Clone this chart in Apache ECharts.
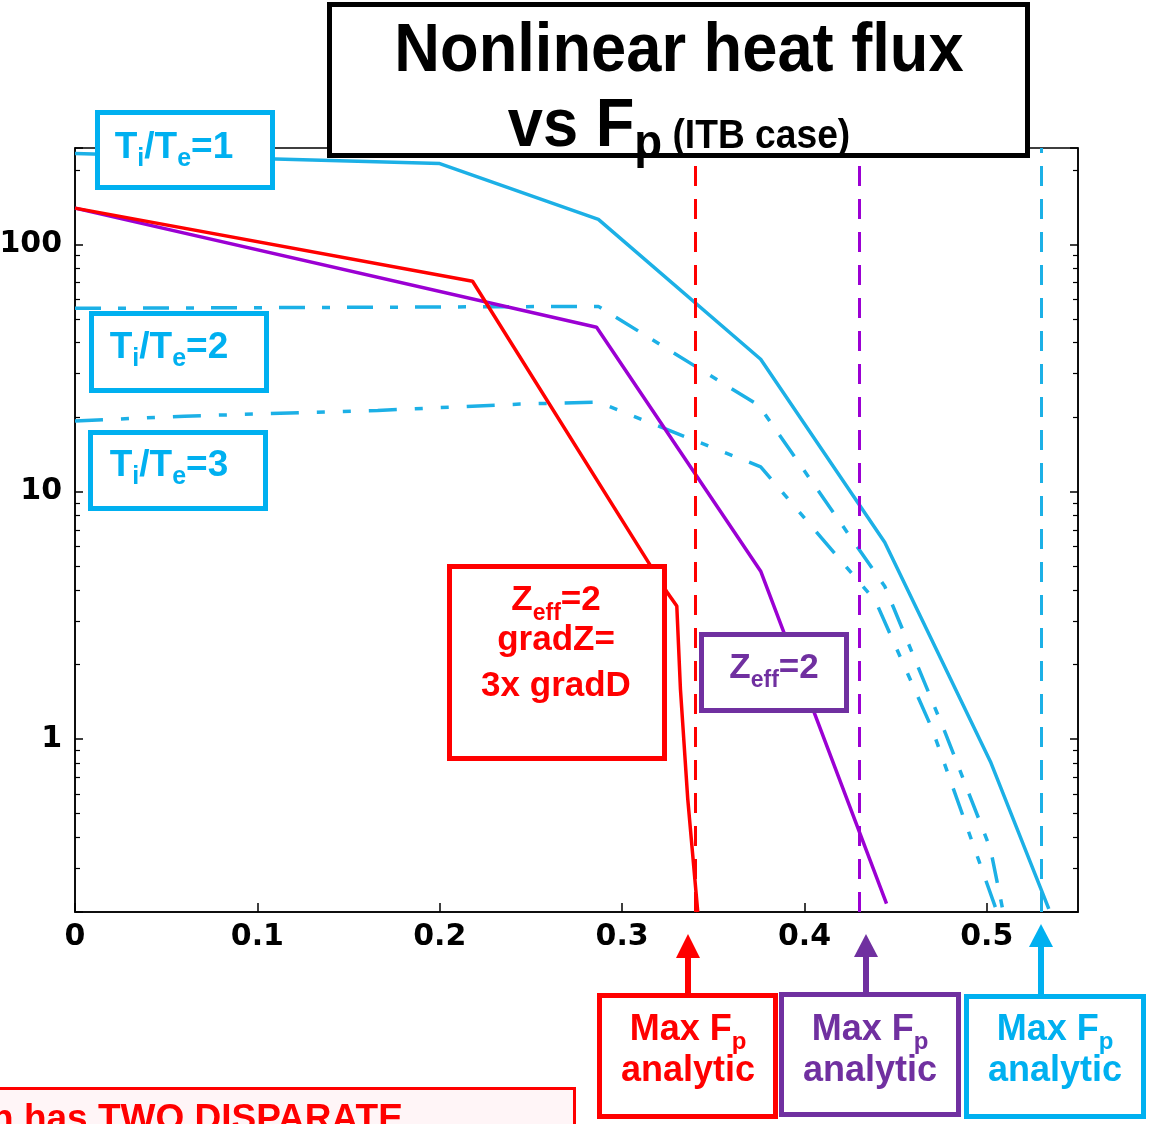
<!DOCTYPE html>
<html><head><meta charset="utf-8">
<script src="https://cdn.jsdelivr.net/npm/echarts@6/dist/echarts.min.js"></script>
<style>html,body{margin:0;padding:0;background:#fff}#c{width:1153px;height:1124px}</style>
</head><body><div id="c"></div><script>
// ---- data ----
const fpT1 = [0, 0.200, 0.287, 0.376, 0.444, 0.502, 0.534];
const qT1  = [233, 212, 126, 34.3, 6.25, 0.81, 0.206];
const fpT2 = [0, 0.287, 0.375, 0.444, 0.477, 0.502, 0.509];
const qT2  = [55.1, 56.1, 22.3, 4.15, 1.07, 0.36, 0.2];
const fpT3 = [0, 0.06, 0.166, 0.244, 0.287, 0.376, 0.439, 0.470, 0.505];
const qT3  = [19.3, 20.2, 21.3, 22.6, 23.0, 12.6, 3.61, 1.10, 0.206];
const fpZ  = [0, 0.286, 0.376, 0.445];
const qZ   = [140, 46.2, 4.77, 0.216];
const fpZg = [0, 0.218, 0.325, 0.330, 0.332, 0.336, 0.3415];
const qZg  = [140, 70.9, 3.89, 3.45, 1.59, 0.573, 0.2];
const maxFpRed = 0.3365, maxFpPurple = 0.4336, maxFpCyan = 0.526;
const xTickLabels = ['0', '0.1', '0.2', '0.3', '0.4', '0.5'];
const yTickLabels = ['1', '10', '100'];

const RED = '#ff0000', PUR = '#7030a0', CYN = '#00b0f0', LCYN = '#1cb0e6', LPUR = '#9b00d3';
const SANS = '"Liberation Sans", Arial, sans-serif';

function pairs(xs, ys) { return xs.map((x, i) => [x, ys[i]]); }

const mctx = document.createElement('canvas').getContext('2d');
function measure(t, size, sx) { mctx.font = 'bold ' + size + 'px ' + SANS; return mctx.measureText(t).width * (sx || 1); }
// parts: [text, size, dy]
function run(cx, baseline, parts, color, sx) {
  sx = sx || 1;
  const ws = parts.map(p => measure(p[0], p[1], sx));
  const total = ws.reduce((a, b) => a + b, 0);
  let x = cx - total / 2;
  const els = [];
  parts.forEach((p, i) => {
    els.push({
      type: 'text', x: x, y: baseline + (p[2] || 0) - 0.33 * p[1], scaleX: sx, z: 110,
      style: { text: p[0], fill: color, font: 'bold ' + p[1] + 'px ' + SANS, textAlign: 'left', verticalAlign: 'middle' }
    });
    x += ws[i];
  });
  return els;
}
function box(x, y, w, h, color, lw, fill) {
  return { type: 'rect', z: 100, shape: { x: x, y: y, width: w, height: h }, style: { fill: fill || '#fff', stroke: color, lineWidth: lw } };
}
function arrow(cx, tip, headBase, bottom, color) {
  return [
    { type: 'rect', z: 100, shape: { x: cx - 3, y: headBase - 2, width: 6, height: bottom - headBase + 2 }, style: { fill: color } },
    { type: 'polygon', z: 100, shape: { points: [[cx - 12, headBase], [cx + 12, headBase], [cx, tip]] }, style: { fill: color } }
  ];
}

const graphics = [].concat(
  [box(329.5, 4.5, 698, 151, '#000', 5)],
  run(679, 75, [['Nonlinear heat flux', 68, 0]], '#000', 0.93),
  run(679, 150, [['vs F', 68, 0], ['p', 49, 11], [' (ITB case)', 40, 0]], '#000', 0.93),
  [box(97.5, 112.5, 175, 75, CYN, 5)],
  run(174, 160, [['T', 37, 0], ['i', 25, 7], ['/T', 37, 0], ['e', 25, 7], ['=1', 37, 0]], CYN),
  [box(91.5, 313.5, 175, 77, CYN, 5)],
  run(169, 360, [['T', 37, 0], ['i', 25, 7], ['/T', 37, 0], ['e', 25, 7], ['=2', 37, 0]], CYN),
  [box(90.5, 432.5, 175, 76, CYN, 5)],
  run(169, 478, [['T', 37, 0], ['i', 25, 7], ['/T', 37, 0], ['e', 25, 7], ['=3', 37, 0]], CYN),
  [box(449.5, 566.5, 215, 192, RED, 5)],
  run(556, 612, [['Z', 35, 0], ['eff', 23, 9], ['=2', 35, 0]], RED),
  run(556, 652, [['gradZ=', 35, 0]], RED),
  run(556, 698, [['3x gradD', 35, 0]], RED),
  [box(701.5, 634.5, 145, 76, PUR, 5)],
  run(774, 680, [['Z', 35, 0], ['eff', 23, 8], ['=2', 35, 0]], PUR),
  arrow(688, 934, 958, 993, RED),
  arrow(866, 934, 957, 993, PUR),
  arrow(1041, 924, 947, 995, CYN),
  [box(599.5, 995.5, 176, 121, RED, 5)],
  run(688, 1042, [['Max F', 36, 0], ['p', 24, 8]], RED),
  run(688, 1083, [['analytic', 36, 0]], RED),
  [box(781.5, 994.5, 177, 120, PUR, 5)],
  run(870, 1042, [['Max F', 36, 0], ['p', 24, 8]], PUR),
  run(870, 1083, [['analytic', 36, 0]], PUR),
  [box(966.5, 996.5, 177, 120, CYN, 5)],
  run(1055, 1042, [['Max F', 36, 0], ['p', 24, 8]], CYN),
  run(1055, 1083, [['analytic', 36, 0]], CYN),
  [box(-3.5, 1088.5, 578, 60, RED, 3, '#fff5f7')],
  [{ type: 'text', x: -9, y: 1132 - 0.33 * 37, z: 110, style: { text: 'n has TWO DISPARATE', fill: RED, font: 'bold 37px ' + SANS, textAlign: 'left', verticalAlign: 'middle' } }]
);

function vline(x, color) {
  return { silent: true, symbol: 'none', label: { show: false }, animation: false,
    lineStyle: { color: color, width: 3, type: [20, 13] }, data: [{ xAxis: x }] };
}

const yAxisBase = {
  type: 'log', logBase: 10, min: 0.2, max: 245,
  axisLine: { show: true, lineStyle: { color: '#000', width: 1.5 } },
  axisTick: { show: true, inside: true, length: 8, lineStyle: { color: '#000', width: 1.5 } },
  minorTick: { show: true, splitNumber: 9, length: 5, lineStyle: { color: '#000', width: 1.2 } },
  splitLine: { show: false }, minorSplitLine: { show: false }
};

const option = {
  animation: false,
  backgroundColor: '#fff',
  grid: { left: 75, right: 75, top: 148, bottom: 212, show: true, borderColor: '#000', borderWidth: 1.5,
    containLabel: false, outerBoundsMode: 'none' },
  xAxis: {
    type: 'value', min: 0, max: 0.55, interval: 0.1,
    axisLine: { lineStyle: { color: '#000', width: 1.5 } },
    axisTick: { inside: true, length: 9, lineStyle: { color: '#000', width: 1.5 } },
    splitLine: { show: false },
    axisLabel: { color: '#000', fontFamily: 'DejaVu Sans', fontWeight: 'bold', fontSize: 30, margin: 10,
      showMaxLabel: false,
      formatter: v => { const i = Math.round(v * 10); return Math.abs(v * 10 - i) < 1e-6 && i < xTickLabels.length ? xTickLabels[i] : ''; } }
  },
  yAxis: [
    Object.assign({}, yAxisBase, { position: 'left',
      axisLabel: { color: '#000', fontFamily: 'DejaVu Sans', fontWeight: 'bold', fontSize: 30, margin: 13,
        formatter: v => { const s = String(Math.round(v)); return (Math.abs(v - Math.round(v)) < 1e-6 && yTickLabels.includes(s)) ? s : ''; } } }),
    Object.assign({}, yAxisBase, { position: 'right', axisLabel: { show: false } })
  ],
  series: [
    { type: 'line', name: 'Ti/Te=1', data: pairs(fpT1, qT1), symbol: 'none', z: 3,
      lineStyle: { color: LCYN, width: 3.5 }, markLine: vline(maxFpCyan, LCYN) },
    { type: 'line', name: 'Ti/Te=2', data: pairs(fpT2, qT2), symbol: 'none', z: 3,
      lineStyle: { color: LCYN, width: 3.5, type: [26, 17, 8, 17], cap: 'butt' } },
    { type: 'line', name: 'Ti/Te=3', data: pairs(fpT3, qT3), symbol: 'none', z: 3,
      lineStyle: { color: LCYN, width: 3.5, type: [28, 18, 8, 18, 8, 18], cap: 'butt' } },
    { type: 'line', name: 'Zeff=2', data: pairs(fpZ, qZ), symbol: 'none', z: 4,
      lineStyle: { color: LPUR, width: 3.5 }, markLine: vline(maxFpPurple, LPUR) },
    { type: 'line', name: 'Zeff=2 gradZ=3x gradD', data: pairs(fpZg, qZg), symbol: 'none', z: 5,
      lineStyle: { color: RED, width: 3.5 }, markLine: vline(maxFpRed, RED) }
  ],
  graphic: graphics
};

const chart = echarts.init(document.getElementById('c'), null, { renderer: 'canvas' });
chart.setOption(option);
</script></body></html>
